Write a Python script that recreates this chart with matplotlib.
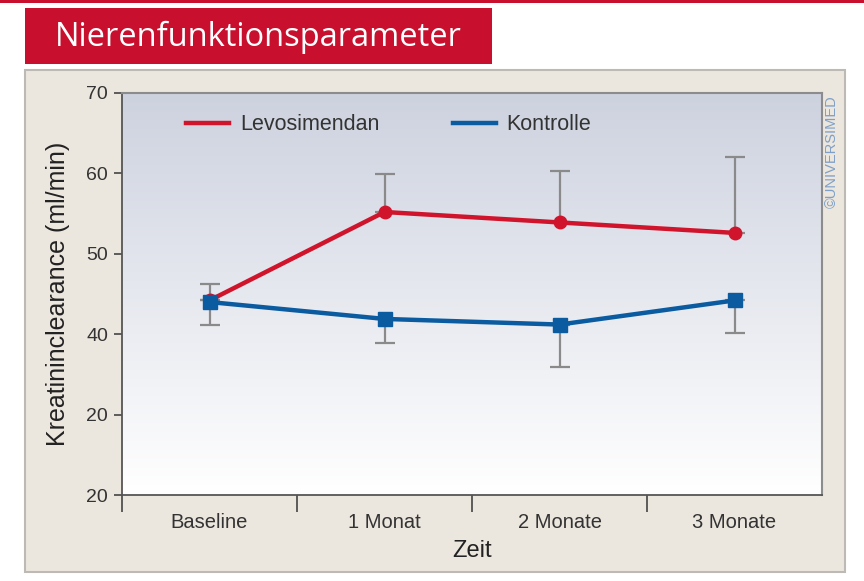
import numpy as np
import matplotlib
matplotlib.use("Agg")
import matplotlib.pyplot as plt
from matplotlib.patches import Rectangle

plt.rcParams['font.family'] = ['Liberation Sans Narrow', 'Liberation Sans', 'DejaVu Sans']

# data
categories = ['Baseline', '1 Monat', '2 Monate', '3 Monate']
levo = [44.2, 55.2, 53.9, 52.6]
levo_upper = [0.0, 4.7, 6.4, 9.4]
kontrolle = [44.0, 41.9, 41.2, 44.2]
kontrolle_lower = [2.8, 3.0, 5.3, 4.1]
kontrolle_upper = [2.3, 0.0, 0.0, 0.0]
ytick_vals = [20, 30, 40, 50, 60, 70]
ytick_labels = ['20', '20', '40', '50', '60', '70']

W, H = 864, 581
fig = plt.figure(figsize=(W / 100, H / 100), dpi=100)
fig.patch.set_facecolor('white')


def fx(px):
    return px / W


def fy(py):
    return 1 - py / H


# thin red line at the top
fig.add_artist(Rectangle((0, fy(3)), 1, 3 / H, transform=fig.transFigure,
                         facecolor='#c8102e', edgecolor='none', zorder=-10))
# beige panel
fig.add_artist(Rectangle((fx(25), fy(572)), (845 - 25) / W, (572 - 70) / H,
                         transform=fig.transFigure, facecolor='#ebe6de',
                         edgecolor='#bdbab5', linewidth=1.5, zorder=-10))
# red title banner
fig.add_artist(Rectangle((fx(25), fy(64)), (492 - 25) / W, (64 - 8) / H,
                         transform=fig.transFigure, facecolor='#c8102e',
                         edgecolor='none', zorder=-10))
fig.text(fx(55), fy(37), 'Nierenfunktionsparameter', color='white',
         fontsize=23.5, va='center', ha='left',
         family=['Open Sans', 'DejaVu Sans'])

ax = fig.add_axes([fx(122), fy(495), (822 - 122) / W, (495 - 93) / H])
x = np.arange(len(categories))
ax.set_xlim(-0.5, len(categories) - 0.5)

# background gradient
grad = np.linspace(0, 1, 256).reshape(-1, 1)
top = np.array([205, 210, 223]) / 255
bot = np.array([255, 255, 255]) / 255
img = top + (bot - top) * grad[..., None]
ax.imshow(img.reshape(256, 1, 3), extent=[-0.5, 3.5, 20, 70], aspect='auto',
          zorder=0, origin='upper')
ax.set_ylim(20, 70)

err_color = '#8a8a8a'
ax.errorbar(x, levo, yerr=[np.zeros(4), levo_upper], fmt='none',
            ecolor=err_color, elinewidth=1.6, capsize=7, capthick=1.6, zorder=2)
ax.errorbar(x, kontrolle, yerr=[kontrolle_lower, kontrolle_upper], fmt='none',
            ecolor=err_color, elinewidth=1.6, capsize=7, capthick=1.6, zorder=2)

ax.plot(x, levo, color='#d0142c', linewidth=3.2, marker='o', markersize=9,
        label='Levosimendan', zorder=3)
ax.plot(x, kontrolle, color='#0a5ba0', linewidth=3.2, marker='s', markersize=10,
        label='Kontrolle', zorder=4)

ax.set_yticks(ytick_vals)
ax.set_yticklabels(ytick_labels, fontsize=14, color='#333333')
ax.set_xticks([-0.5, 0.5, 1.5, 2.5])
ax.set_xticklabels([])
ax.set_xticks(x, minor=True)
ax.set_xticklabels(categories, minor=True, fontsize=14.5, color='#333333')
ax.tick_params(axis='x', which='minor', length=0, pad=13)
ax.tick_params(axis='x', which='major', length=12, width=1.2, color='#444444')
ax.tick_params(axis='y', length=6, width=1.2, color='#444444', pad=4)

for side in ['left', 'bottom']:
    ax.spines[side].set_color('#555555')
    ax.spines[side].set_linewidth(1.3)
for side in ['top', 'right']:
    ax.spines[side].set_color('#8c8c8c')
    ax.spines[side].set_linewidth(1.5)

ax.set_ylabel('Kreatininclearance (ml/min)', fontsize=18, color='#222222',
              labelpad=12)
ax.set_xlabel('Zeit', fontsize=17, color='#222222', labelpad=6)

ax.legend(loc='upper left', bbox_to_anchor=(0.064, 0.995), ncol=2, frameon=False,
          fontsize=15.5, handlelength=2.0, columnspacing=3.4, handletextpad=0.5,
          labelcolor='#333333', markerscale=0)

fig.text(fx(832), fy(152), '©UNIVERSIMED', rotation=90, color='#7ea0c8',
         fontsize=10.5, ha='center', va='center')

fig.savefig('out.png', dpi=100)
